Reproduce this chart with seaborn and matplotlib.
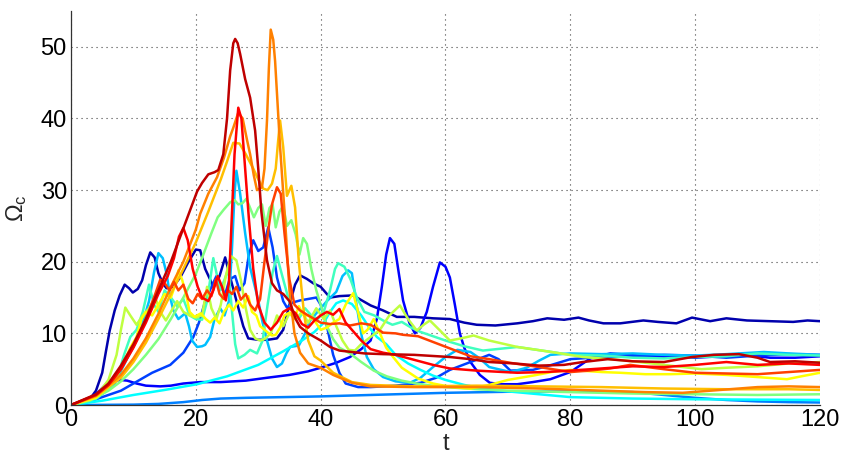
import numpy as np
import pandas as pd
import matplotlib
matplotlib.use("Agg")
import matplotlib.pyplot as plt
from matplotlib.ticker import MultipleLocator
import seaborn as sns

# Core vorticity Omega_c(t) for each run, as (t, value) samples
run_navy = [(0,0),(2,0.3),(3,0.8),(4,2),(5,4.5),(5.6,7.5),(6.2,10.4),(7,13.2),(7.8,15.3),(8.6,16.8),
            (9.3,16.3),(9.9,15.7),(10.7,16.2),(11.4,17.4),(12,19.5),(12.7,21.3),(13.4,20.6),(14,18.4),
            (14.7,17),(15.3,16.3),(16.3,16.5),(17.5,17.8),(18.7,19.8),(20,21.7),(20.7,21.6),(21.5,19),
            (22.3,17.5),(22.8,16.4),(23.8,18),(24.7,20.6),(25.6,17.5),(26.8,13.6),(27.6,11),(28.4,9.3),
            (30,9.1),(31.5,9.1),(33,9.3),(34,10.5),(35,14),(35.9,16.8),(36.7,18.1),(37.8,17.6),(38.8,17),
            (40,16.5),(41.5,15),(43,15.2),(45.2,15.3),(48,13.9),(50,13.2),(52.2,12.3),(55,12.3),(58,12.1),
            (60.7,12),(63,11.5),(65,11.2),(68,11.1),(71.5,11.4),(74,11.7),(76.3,12.1),(79,11.9),(81.3,12.2),
            (83,11.8),(85.3,11.4),(88,11.4),(91.7,11.8),(94,11.6),(97,11.4),(99.5,12.2),(102.4,11.7),
            (105,12.1),(108.3,11.8),(112,11.7),(115.7,11.6),(118,11.8),(120,11.7)]

run_blue = [(0,0),(2,0.3),(4,1.5),(5.5,2.8),(6.5,3.3),(7.9,3.5),(9,3.4),(10.5,3.0),(12,2.7),(14.3,2.6),
            (16,2.7),(18,3.0),(20.7,3.2),(24,3.2),(28,3.4),(31.4,3.8),(35,4.2),(38,4.7),(40,5.2),(42.5,5.9),
            (44.7,6.7),(46.5,7.8),(48,9),(49,12),(49.8,16.5),(50.5,21),(51.1,23.3),(51.8,22.5),(52.5,18.5),
            (53.2,14.6),(54.2,11.5),(55.1,10),(56,10.8),(57,13),(58,16.5),(59.1,19.9),(60,19.3),(60.7,17.8),
            (61.5,14),(62.3,10),(63,8),(64,6),(65.5,4.2),(67.1,3.1),(69,2.9),(71.5,2.9),(74,3.2),(76.8,3.6),
            (80,4.6),(83.2,6.5),(86.4,7.2),(89.6,7.0),(93,6.8),(97,6.7),(100,6.6),(104,6.8),(108,7.0),
            (112,6.6),(116,6.6),(120,6.8)]

run_blue2 = [(0,0),(4,0.8),(8,2),(10.6,3.3),(13,4.5),(15.9,5.6),(18,7.3),(19.6,9.5),(20.5,11.5),(21.5,14.5),
             (22.5,16.5),(23.3,18),(24,16.5),(24.7,15.5),(25.4,17.5),(26.3,18),(27,16),(27.8,17),(28.5,21),
             (29.2,23),(30,21.5),(30.8,22),(31.6,24.8),(32.3,22),(33,17.8),(34,14.5),(34.6,13.6),(35.5,14.3),
             (36.7,14.6),(38,14.8),(39.3,15),(40,14),(41,11),(42,7),(43,4.5),(44,3.0),(46,2.5),(48,2.5),
             (52,2.7),(56,3.1),(58.5,3.8),(60.7,4.9),(64,6),(67,7.0),(68.5,6.4),(70.4,4.8),(74,4.9),(77,5.6),
             (80,6.4),(85,6.7),(90,6.8),(95,7.0),(100,6.9),(105,6.6),(110,6.9),(115,7.1),(120,7.0)]

run_azure = [(0,0),(5,0.02),(10,0.05),(14,0.15),(18,0.4),(21,0.7),(24,0.9),(28,1.0),(34,1.1),(40,1.2),
             (50,1.45),(60,1.7),(70,1.85),(80,1.9),(90,1.8),(95,1.4),(100,1.0),(105,0.7),(110,0.5),
             (115,0.4),(120,0.35)]

run_skyblue = [(0,0),(4,0.8),(7,3),(9,6.5),(10.5,9),(11.5,11.5),(12.5,14.5),(13.3,18.5),(14,21.2),(14.7,20.5),
               (15.3,18.4),(15.9,15),(16.4,13.2),(17.2,12),(18.3,12.8),(18.9,11),(19.4,9),(20.2,8.1),(21,8.2),
               (21.5,8.4),(22.3,9.5),(23,12),(23.9,13.5),(24.6,12.5),(25.3,14.5),(25.8,22),(26.2,29.5),
               (26.5,32.7),(27.1,29.5),(27.9,24),(28.7,19.2),(30,14.6),(30.7,11.5),(31.4,9),(32.2,6.5),
               (33,5.3),(33.8,5.8),(34.5,7.2),(35.1,8.1),(36.5,8.3),(37.5,10),(38.3,11.8),(39.5,13),(41,14.5),
               (42.5,15.8),(43.5,18),(44.4,18.8),(45,18.4),(45.8,13.7),(46.6,9.5),(47.4,6.7),(48.5,5),
               (50,3.9),(52,3.3),(54.3,3.1),(56,3.8),(58,5.3),(60,6.7),(61.9,7.7),(64,7.4),(65.5,6.5),
               (67,5.3),(70.4,4.6),(73,5.2),(75,6.2),(76.8,7),(80,7.2),(85,7.1),(90,7.2),(95,7.0),
               (100,6.9),(105,7.1),(111,7.4),(115,7.2),(120,7.0)]

run_cyan = [(0,0),(5,0.6),(10,1.4),(15,2.1),(20.2,2.9),(25,4.0),(30,5.6),(34,7.5),(37,9),(39,10.2),
            (40.5,11.5),(41.5,13),(42.5,14.2),(43.6,14.6),(45,14.1),(46.5,12.5),(47.8,10.8),(49,9.5),
            (50.5,8.5),(52,7),(54,5.8),(56,4.9),(58,4.1),(60,3.5),(63,2.8),(66,2.3),(70,1.9),(75,1.5),
            (80,1.1),(90,0.9),(100,0.8),(110,0.75),(120,0.7)]

run_aqua = [(0,0),(4,0.9),(6,2.2),(7.5,4),(8.5,7),(9.5,9.5),(10.5,10.5),(11.5,13),(12.5,16.8),(13.3,14),
            (14,13),(15,16),(16,15),(17,13.8),(18,14.8),(19,12.5),(20,12),(21,11.9),(21.8,14.5),(22.8,20.5),
            (23.9,16),(24.6,17.5),(25.2,19),(25.8,13),(26.3,8.5),(26.8,6.5),(27.8,7),(28.7,7.7),(29.8,7.2),
            (30.7,9),(31.5,14),(32.3,18.5),(33,20.8),(33.7,18.5),(34.6,15.6),(35.5,13),(36.5,12),(37.5,13.5),
            (38.5,12.5),(39.5,12),(40.5,13),(41.5,16),(42.3,19),(42.8,19.8),(43.8,19.3),(44.8,17.5),
            (45.8,15),(47,13),(48.6,12.5),(50,11.8),(51.5,11.2),(53,11.6),(54.5,10.8),(56,10.2),(58,9.6),
            (60,9.0),(63,8.2),(66,7.6),(71.5,8.1),(77,7.4),(80,7.0),(85,6.9),(90,6.6),(95,6.5),(100,6.7),
            (105,6.8),(110,7.2),(115,7.0),(120,6.9)]

run_green = [(0,0),(3,0.6),(6,2),(8,3.3),(10,5),(12,7),(14,9.2),(16,12),(18,15),(20,18.3),(21.2,21),
             (22.5,24),(23.5,26.2),(24.5,27.3),(25.5,28.3),(26.2,28.6),(26.8,28),(27.5,28.2),(28.1,28.8),
             (28.7,27.5),(29.3,26.2),(30,27.5),(30.6,28),(31.2,25),(31.8,27.5),(32.3,28),(32.8,24.8),
             (33.4,27),(34,27.8),(34.6,25),(35.3,25.8),(36,23.8),(36.6,21),(37.2,23.3),(37.8,22.5),
             (38.5,19),(39.3,16),(40,14),(41,11),(42,9.2),(43,8),(44.7,7.2),(46.5,6),(48.5,4.8),(50.6,4),
             (53,3.4),(56,2.9),(60,2.5),(65,2.2),(70,2.0),(80,1.8),(90,1.6),(100,1.5),(110,1.4),(120,1.5)]

run_lime = [(0,0),(4,1.2),(6,3.5),(7.3,7),(8,10.5),(8.7,13.6),(9.5,12.5),(10.5,11.2),(11.5,12.5),(12.5,13.5),
            (13.5,15),(14.3,13),(15.2,11.8),(16,13),(17,14.5),(18,13),(19,12.5),(20,12.2),(21,12.5),
            (21.8,16.5),(22.5,13.5),(23.3,12),(24,14),(24.8,18),(25.6,20.8),(26.5,20.2),(27.2,17.5),
            (28,13.5),(28.7,10.5),(29.5,9.3),(30.3,9),(31,9.2),(32,10),(33,12.5),(34,11),(35,12.8),(36,12),
            (37,13),(38,11.5),(39.3,13.5),(40.5,12),(41.5,13.2),(42.5,11),(43.5,9),(44.5,7.7),(45.5,7.6),
            (46.5,8.5),(48,9.5),(49.5,10.5),(51,12.5),(52.7,13.9),(54,12),(55.4,10.4),(56.5,11.2),
            (57.5,11.8),(59,10.5),(60.7,9.0),(62.5,9.3),(64.5,9.7),(67,9.0),(71.5,8.1),(77,7.4),(82,6.7),
            (86.4,6.4),(90,6.1),(95,5.6),(101,5.0),(105,5.2),(110,5.4),(115,5.8),(120,6.0)]

run_yellow = [(0,0),(4,1.0),(6,2.5),(8,5),(9.5,8),(10.5,9.5),(11.3,12),(12,13),(13,12.5),(14,14),(15,15.5),
              (16,15),(16.8,17),(17.2,18.8),(17.8,17.5),(18.5,15.2),(19,13),(19.8,12.3),(20.8,12.8),
              (21.6,12),(22.3,11.5),(23,12.2),(23.8,11.4),(24.5,13),(25.3,14),(26,13.2),(26.8,14.5),
              (27.6,13.6),(28.4,15.2),(29,13),(29.7,12.5),(30.3,11),(31,10.5),(31.7,10),(32.2,9.7),
              (32.8,9.8),(33.5,10.8),(34.2,12.5),(35,12.9),(35.8,12),(36.5,13.8),(37.3,12.5),(38,12.5),
              (39,11.8),(40,10.5),(41,10.8),(42,11.5),(43,12),(44,14),(45.2,15.6),(46,13),(46.8,10),
              (47.5,10.5),(48.5,12),(49.5,10),(50.5,8),(51.6,6.7),(53,5.2),(55.6,3.7),(58,3.0),(61,2.5),
              (64,2.3),(67,2.8),(70,3.5),(74,4.1),(77,4.6),(80,4.9),(85,4.6),(88,4.5),(92,4.3),(96,4.3),
              (100,4.4),(105,4.2),(110,3.9),(114.7,3.6),(117,4.0),(120,4.5)]

run_gold = [(0,0),(4,1.2),(8,3.8),(10,6),(12,8.7),(14,12),(16,15.5),(18,19),(20,22.7),(22,27),(24,31.5),
            (25,34),(26,36.6),(27,36.5),(28,35),(29.2,33),(30,31.5),(30.8,30.2),(31.5,30),(32.2,30.9),
            (32.8,33),(33.2,37),(33.5,39.7),(34,36),(34.6,29.2),(35.3,30.6),(35.9,27.6),(36.5,20),
            (37.3,13),(38,9),(39,6.8),(40,6.2),(42,4.5),(45,3.2),(48,2.8),(55,2.6),(65,2.7),(75,2.6),
            (85,2.5),(95,2.3),(105,2.2),(115,2.2),(120,2.1)]

run_orange = [(0,0),(4,1.3),(8,4.2),(10,6.5),(12,9.3),(14,12.7),(16,16.5),(18,20),(20,24.5),(20.7,26.7),
              (22,29.5),(23.4,31.8),(24.5,34.5),(25.5,37.5),(26,38.7),(26.8,40.8),(27.5,40),(28.2,37),
              (28.7,35),(29.3,32),(29.8,30),(30.6,30.4),(31,33),(31.4,39.7),(31.7,47),(32,52.4),(32.4,51),
              (32.7,48),(33.1,42),(33.5,36),(34.3,25.8),(35,16),(35.8,10),(36.7,7.3),(38,5.8),(40,5.2),
              (42,4.2),(45,3.1),(48,2.6),(55,2.5),(65,2.5),(75,2.3),(85,2.0),(92,1.8),(98,1.7),(104,2.1),
              (110,2.5),(115,2.6),(120,2.5)]

run_vermilion = [(0,0),(4,1.4),(6,2.8),(8,5),(10,8.2),(12,12),(13.5,15.5),(14.3,17.5),(15,17),(15.8,16),
                 (16.5,17.2),(17.2,16),(18,16.8),(18.8,14.8),(19.5,14.2),(20.3,15.5),(21,14.8),(21.8,16),
                 (22.5,15.2),(23.2,17.5),(23.8,15.5),(24.5,14.8),(25.2,16),(25.8,15.5),(26.5,16.5),
                 (27.2,14.7),(28,15.5),(28.7,14),(29.5,13.2),(30.3,14.8),(31,20),(31.7,25),(32.2,28),
                 (33,30.4),(33.6,29.5),(34.2,24),(35,17.5),(35.8,14),(36.7,13.2),(38,12.5),(39,12),(40,11.5),
                 (41.5,11.3),(43,11.4),(44.7,11.1),(46.5,11.4),(48,11.2),(50,10.1),(52,10),(53.2,9.8),
                 (55.6,9.6),(58,8.8),(60.7,7.9),(64,6.8),(67,6.4),(71,5.8),(75,5.3),(80,4.6),(83,4.8),
                 (86.4,5.1),(89.6,5.6),(95,5.0),(100,4.5),(105,4.4),(110,4.3),(115,4.6),(120,4.9)]

run_red = [(0,0),(4,1.4),(6,2.8),(8,5),(10,8),(12,11.5),(14,15.5),(15.5,18),(16.5,20.5),(17.3,23.5),
           (18,24.7),(18.7,23),(19.5,19),(20.3,16.5),(21,15),(22,14.5),(22.8,16),(23.5,18),(24.2,16.5),
           (24.8,14.6),(25.3,17),(25.7,25),(26.2,35),(26.8,41.5),(27.3,40),(27.9,33),(28.5,26),(29.2,19),
           (30,14),(31,11.5),(32,10.5),(33,11.5),(34,13),(35,13.5),(36,12.8),(37,11.3),(38,10.8),(39,11.8),
           (40,12.5),(41,13),(42,12.6),(43,13.4),(44,11.5),(45,10.5),(46.5,9),(48,7.8),(50,7.3),(52,7.0),
           (55,6.3),(58,5.6),(60.7,5.1),(65,4.8),(71.5,4.5),(76,4.6),(80,4.8),(85,5.1),(90,5.4),(95,5.3),
           (100,5.6),(105,6.0),(110,5.6),(115,5.8),(120,5.6)]

run_maroon = [(0,0),(4,1.5),(6,3),(8,5.5),(10,8.5),(12,12),(14,16),(16,20),(17.5,23.5),(19,27),(20.2,29.8),
              (21,31),(22,32.2),(23,32.5),(23.6,32.8),(24.4,35),(25,40),(25.5,46.7),(26,50.5),(26.3,51.1),
              (26.7,50.5),(27.1,49),(27.9,45.5),(28.7,42.9),(29.5,38.3),(30,33),(30.5,27),(31.4,20.2),
              (32.2,17),(33,16),(34,15.5),(35,14.5),(36,12),(36.7,10.9),(38,10),(40,9),(41.5,8.1),(43,7.6),
              (45,7.4),(47,7.2),(50,7.1),(55,7.0),(60.7,6.7),(64,6.4),(67,6.0),(71,5.8),(75,5.5),(79,5.6),
              (82,6.0),(86,6.4),(90,6.1),(95,6.0),(99.5,6.7),(103,7.0),(107,7.1),(110,6.6),(112,6.0),
              (116,6.1),(120,5.9)]

runs = [run_navy, run_blue, run_blue2, run_azure, run_skyblue, run_cyan, run_aqua, run_green,
        run_lime, run_yellow, run_gold, run_orange, run_vermilion, run_red, run_maroon]

# jet-like colour per run, dark blue through dark red
line_colors = [(0, 0, 0.68), (0, 0, 1), (0, 0.25, 1), (0, 0.5, 1), (0, 0.75, 1), (0, 1, 1),
               (0.25, 1, 0.75), (0.5, 1, 0.5), (0.75, 1, 0.25), (1, 1, 0), (1, 0.75, 0),
               (1, 0.5, 0), (1, 0.25, 0), (1, 0, 0), (0.75, 0, 0)]

frames = []
for i, r in enumerate(runs):
    arr = np.array(r, dtype=float)
    frames.append(pd.DataFrame({"t": arr[:, 0], "omega": arr[:, 1], "run": i}))
df = pd.concat(frames, ignore_index=True)

sns.set_style("white")
plt.rcParams["font.family"] = ["Liberation Sans", "DejaVu Sans"]
plt.rcParams["mathtext.fontset"] = "custom"
plt.rcParams["mathtext.rm"] = "Liberation Sans"
plt.rcParams["mathtext.it"] = "Liberation Sans:italic"

fig = plt.figure(figsize=(8.42, 4.54), dpi=100)
ax = fig.add_axes([71 / 842, 49 / 454, 749 / 842, 394 / 454])

sns.lineplot(data=df, x="t", y="omega", hue="run", palette=line_colors,
             estimator=None, sort=False, legend=False, linewidth=1.8, ax=ax)

ax.set_xlim(0, 120)
ax.set_ylim(0, 55)
ax.xaxis.set_major_locator(MultipleLocator(20))
ax.yaxis.set_major_locator(MultipleLocator(10))
ax.xaxis.set_minor_locator(MultipleLocator(1))
ax.yaxis.set_minor_locator(MultipleLocator(1))

ax.grid(True, which="major", color="#444444", linestyle=(0, (1, 3.5)), linewidth=0.8)
for side in ["top", "right"]:
    ax.spines[side].set_visible(False)
for side in ["left", "bottom"]:
    ax.spines[side].set_color("#333333")
    ax.spines[side].set_linewidth(0.9)

ax.tick_params(which="major", direction="in", length=5, width=0.8, colors="#333333",
               labelsize=17, labelcolor="black")
ax.tick_params(which="minor", direction="in", length=3, width=0.6, colors="#666666")
ax.tick_params(axis="x", which="major", pad=3)
ax.tick_params(axis="y", which="major", pad=3)

ax.set_xlabel("t", fontsize=17, labelpad=1)
ax.set_ylabel(r"$\mathrm{\Omega_c}$", fontsize=17, labelpad=8)

fig.savefig("out.png", dpi=100)
